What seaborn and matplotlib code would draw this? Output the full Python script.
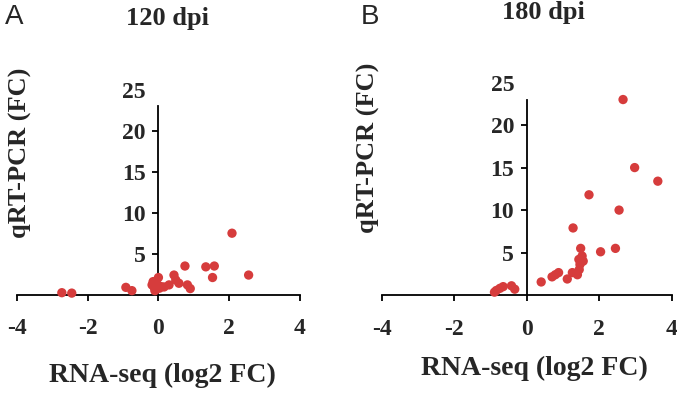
import pandas as pd
import seaborn as sns
import matplotlib.pyplot as plt

# RNA-seq log2 FC vs qRT-PCR FC
rna_120 = [-2.73, -2.45, -0.92, -0.75, -0.18, -0.12, -0.08, -0.15, -0.05, 0.0, 0.03, -0.1, 0.07,
           0.16, 0.3, 0.44, 0.49, 0.58, 0.75, 0.82, 0.9, 1.34, 1.58, 1.53, 2.08, 2.55]
pcr_120 = [0.25, 0.2, 0.9, 0.5, 1.2, 0.9, 0.6, 1.6, 1.4, 2.1, 0.8, 0.5, 1.0,
           0.95, 1.2, 2.4, 1.8, 1.4, 3.5, 1.2, 0.75, 3.4, 3.5, 2.1, 7.5, 2.4]

rna_180 = [-0.89, -0.84, -0.74, -0.65, -0.42, -0.33, 0.4, 0.7, 0.79, 0.88, 1.12, 1.26, 1.28,
           1.4, 1.45, 1.47, 1.44, 1.49, 1.53, 1.56, 1.72, 2.04, 2.45, 2.55, 2.66, 2.98, 3.62]
pcr_180 = [0.35, 0.55, 0.8, 1.0, 1.1, 0.7, 1.55, 2.15, 2.4, 2.65, 1.9, 2.65, 7.9,
           2.4, 3.0, 3.6, 4.2, 5.5, 4.6, 4.0, 11.8, 5.1, 5.5, 10.0, 23.0, 15.0, 13.4]

x_ticks = [-4, -2, 0, 2, 4]
y_ticks = [5, 10, 15, 20, 25]

sns.set_style("white")
plt.rcParams['font.family'] = ['Liberation Serif', 'DejaVu Serif']

fig = plt.figure(figsize=(6.77, 3.93), dpi=100)
axA = fig.add_axes([0.025, 0.250, 0.418, 0.522])
axB = fig.add_axes([0.564, 0.249, 0.428, 0.541])

panels = [(axA, rna_120, pcr_120), (axB, rna_180, pcr_180)]
red = "#d63c3c"

for ax, xs, ys in panels:
    df = pd.DataFrame({"rna": xs, "pcr": ys})
    sns.scatterplot(data=df, x="rna", y="pcr", ax=ax, color=red, s=45,
                    edgecolor="none", zorder=3, clip_on=False)
    ax.set_xlim(-4, 4)
    ax.set_ylim(0, 25)
    for side in ["top", "right"]:
        ax.spines[side].set_visible(False)
    ax.spines["left"].set_position(("data", 0))
    ax.spines["bottom"].set_position(("data", 0))
    ax.spines["left"].set_bounds(0, 23)
    for sp in ["left", "bottom"]:
        ax.spines[sp].set_linewidth(1.3)
        ax.spines[sp].set_color("black")
    ax.set_xticks(x_ticks)
    ax.set_yticks(y_ticks)
    ax.set_xticklabels([str(t) for t in x_ticks])
    ax.set_yticklabels([str(t) for t in y_ticks])
    ax.tick_params(axis="both", direction="out", length=4, width=1.3, color="black",
                   labelsize=17, bottom=True, left=True)
    ax.tick_params(axis="x", pad=13)
    ax.tick_params(axis="y", pad=5)
    # no tick mark at 25 (spine ends below it)
    ax.yaxis.get_major_ticks()[-1].tick1line.set_visible(False)
    for lab in ax.get_xticklabels() + ax.get_yticklabels():
        lab.set_fontweight("bold")
    ax.set_xlabel("")
    ax.set_ylabel("")

fig.text(167 / 677, 1 - 18 / 393, "120 dpi", ha="center", va="center", fontsize=19, fontweight="bold")
fig.text(543 / 677, 1 - 12 / 393, "180 dpi", ha="center", va="center", fontsize=19, fontweight="bold")
fig.text(14 / 677, 1 - 17 / 393, "A", ha="center", va="center", fontsize=20,
         family=["Liberation Sans", "DejaVu Sans"])
fig.text(370 / 677, 1 - 17 / 393, "B", ha="center", va="center", fontsize=20,
         family=["Liberation Sans", "DejaVu Sans"])

fig.text(162 / 677, 1 - 375 / 393, "RNA-seq (log2 FC)", ha="center", va="center", fontsize=20, fontweight="bold")
fig.text(534 / 677, 1 - 368 / 393, "RNA-seq (log2 FC)", ha="center", va="center", fontsize=20, fontweight="bold")
fig.text(20 / 677, 1 - 153 / 393, "qRT-PCR (FC)", ha="center", va="center", rotation=90, fontsize=19, fontweight="bold")
fig.text(368 / 677, 1 - 148 / 393, "qRT-PCR (FC)", ha="center", va="center", rotation=90, fontsize=19, fontweight="bold")

fig.savefig("out.png", dpi=100)
